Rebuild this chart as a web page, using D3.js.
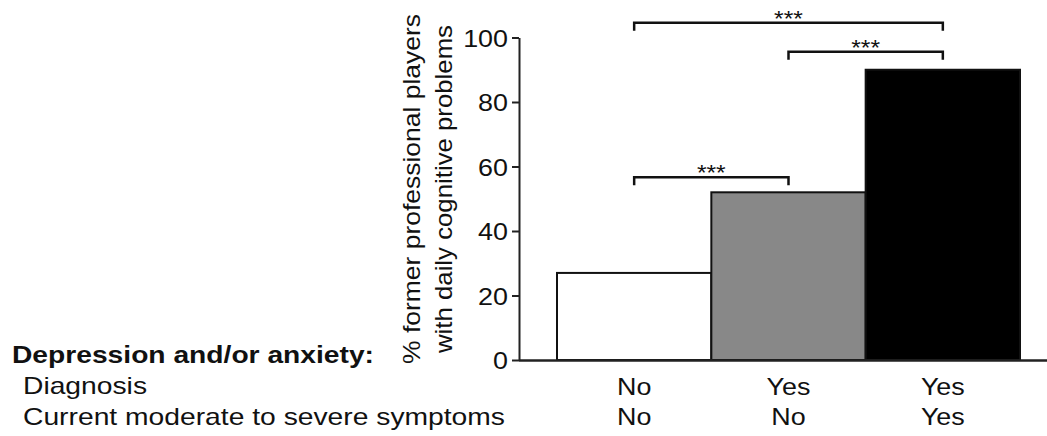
<!DOCTYPE html>
<html>
<head>
<meta charset="utf-8">
<script src="https://cdn.jsdelivr.net/npm/d3@7"></script>
<style>
  body { margin: 0; background: #fff; }
  text { font-family: "Liberation Sans", Arial, sans-serif; fill: #111; }
</style>
</head>
<body>
<script>
// data
var groups = ["g1", "g2", "g3"];
var percent = [27, 52, 90];
var barFill = ["#ffffff", "#888888", "#000000"];
var diagnosis = ["No", "Yes", "Yes"];
var symptoms = ["No", "No", "Yes"];
var yTicks = [0, 20, 40, 60, 80, 100];
// significance brackets: from group, to group, level (in %), label
var comparisons = [
    { from: 0, to: 2, level: 104.6, label: "***" },
    { from: 1, to: 2, level: 95.6, label: "***" },
    { from: 0, to: 1, level: 56.7, label: "***" }
];

var W = 1047, H = 436;
var svg = d3.select("body").append("svg")
    .attr("width", W).attr("height", H);

// the source figure is a bit wider than it is tall, so text gets stretched
function stretch(sel, k) {
    sel.each(function () {
        var w = this.getComputedTextLength();
        d3.select(this).attr("textLength", w * k).attr("lengthAdjust", "spacingAndGlyphs");
    });
}

var y = d3.scaleLinear().domain([0, 100]).range([360, 37.5]);
var x = d3.scaleBand().domain(groups).range([557, 1020]).paddingInner(0).paddingOuter(0);
var axisX = 519;

// bars
svg.append("g").selectAll("rect")
    .data(percent)
    .enter().append("rect")
    .attr("x", (d, i) => x(groups[i]))
    .attr("y", d => y(d))
    .attr("width", x.bandwidth())
    .attr("height", d => y(0) - y(d))
    .attr("fill", (d, i) => barFill[i])
    .attr("stroke", "#111")
    .attr("stroke-width", 2);

// baseline runs out to the edge
svg.append("line")
    .attr("x1", axisX).attr("x2", W)
    .attr("y1", y(0) + 0.5).attr("y2", y(0) + 0.5)
    .attr("stroke", "#222").attr("stroke-width", 2.5);

// y axis
var yAxis = d3.axisLeft(y).tickValues(yTicks).tickSize(7).tickPadding(4).tickSizeOuter(0);
var gy = svg.append("g").attr("transform", "translate(" + axisX + ",0)").call(yAxis);
gy.select(".domain").attr("stroke", "#222").attr("stroke-width", 2);
gy.selectAll(".tick line").attr("stroke", "#222").attr("stroke-width", 2);
gy.selectAll(".tick text")
    .attr("font-size", 24).attr("fill", "#111")
    .attr("font-family", "Liberation Sans, Arial, sans-serif")
    .attr("dy", "0.36em")
    .call(stretch, 1.12);

// y label
var ylab = svg.append("text")
    .attr("transform", "translate(0,189) rotate(-90)")
    .attr("text-anchor", "middle")
    .attr("font-size", 24);
ylab.append("tspan").attr("x", 0).attr("y", 420)
    .attr("textLength", 350).attr("lengthAdjust", "spacingAndGlyphs")
    .text("% former professional players");
ylab.append("tspan").attr("x", 0).attr("y", 452)
    .attr("textLength", 328).attr("lengthAdjust", "spacingAndGlyphs")
    .text("with daily cognitive problems");

// brackets
var mid = i => x(groups[i]) + x.bandwidth() / 2;
var br = svg.append("g").selectAll("g").data(comparisons).enter().append("g");
br.append("path")
    .attr("d", d => {
        var yy = y(d.level);
        return "M" + mid(d.from) + "," + (yy + 8) + "V" + yy + "H" + mid(d.to) + "V" + (yy + 8);
    })
    .attr("fill", "none").attr("stroke", "#111").attr("stroke-width", 2.5);
br.append("text")
    .attr("x", d => (mid(d.from) + mid(d.to)) / 2)
    .attr("y", d => y(d.level) + 3)
    .attr("text-anchor", "middle")
    .attr("font-size", 22)
    .text(d => d.label)
    .call(stretch, 1.12);

// category rows
svg.append("g").selectAll("text").data(diagnosis).enter().append("text")
    .attr("x", (d, i) => mid(i)).attr("y", 395)
    .attr("text-anchor", "middle").attr("font-size", 24)
    .text(d => d)
    .call(stretch, 1.12);
svg.append("g").selectAll("text").data(symptoms).enter().append("text")
    .attr("x", (d, i) => mid(i)).attr("y", 425)
    .attr("text-anchor", "middle").attr("font-size", 24)
    .text(d => d)
    .call(stretch, 1.12);

// row headers
svg.append("text").attr("x", 12).attr("y", 363)
    .attr("font-size", 24).attr("font-weight", "bold")
    .attr("textLength", 362).attr("lengthAdjust", "spacingAndGlyphs")
    .text("Depression and/or anxiety:");
svg.append("text").attr("x", 23).attr("y", 394)
    .attr("font-size", 24)
    .attr("textLength", 124).attr("lengthAdjust", "spacingAndGlyphs")
    .text("Diagnosis");
svg.append("text").attr("x", 23).attr("y", 425)
    .attr("font-size", 24)
    .attr("textLength", 482).attr("lengthAdjust", "spacingAndGlyphs")
    .text("Current moderate to severe symptoms");
</script>
</body>
</html>
